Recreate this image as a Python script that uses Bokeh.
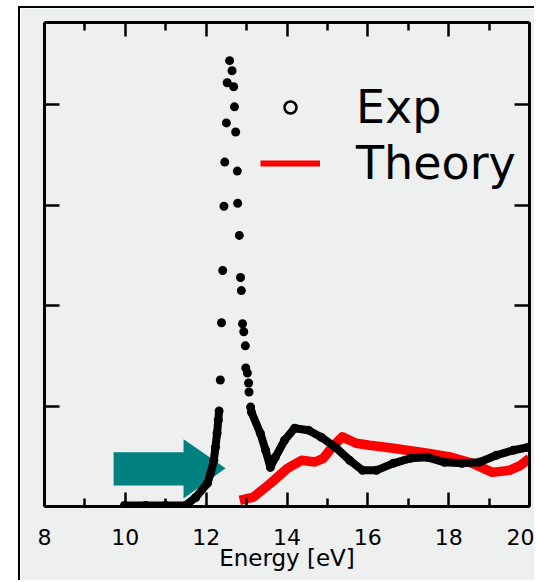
from bokeh.plotting import figure
from bokeh.models import LinearAxis, FixedTicker, Range1d, Legend, LegendItem
from bokeh.embed import file_html
from bokeh.resources import INLINE

# ---- data ----
# experimental trace where the dots merge into a continuous band
exp_base_x = [9.98, 10.5, 11.0, 11.49, 11.74, 12.03, 12.11, 12.19, 12.23, 12.27, 12.30, 12.32]
exp_base_y = [0.01, 0.01, 0.01, 0.01, 0.09, 0.23, 0.33, 0.46, 0.59, 0.73, 0.86, 0.95]
exp_tail_x = [13.10, 13.12, 13.34, 13.47, 13.59, 13.71, 13.94, 14.19, 14.53, 14.85, 15.20,
              15.55, 15.87, 16.21, 16.63, 17.05, 17.48, 17.90, 18.33, 18.76, 19.18, 19.60, 19.97]
exp_tail_y = [0.99, 0.94, 0.73, 0.56, 0.39, 0.49, 0.66, 0.78, 0.76, 0.69, 0.59,
              0.46, 0.36, 0.36, 0.43, 0.48, 0.49, 0.44, 0.43, 0.44, 0.51, 0.56, 0.59]
# experimental points resolved as separate dots (peak region)
exp_peak_x = [12.35, 12.38, 12.41, 12.44, 12.46, 12.50, 12.52, 12.58, 12.64, 12.68, 12.70,
              12.73, 12.77, 12.78, 12.82, 12.85, 12.87, 12.90, 12.93, 12.97, 12.98, 13.02,
              13.05, 13.06]
exp_peak_y = [1.26, 1.83, 2.35, 2.99, 3.43, 3.82, 4.22, 4.44, 4.34, 4.18, 3.98,
              3.73, 3.34, 3.02, 2.70, 2.28, 2.15, 1.82, 1.74, 1.60, 1.38, 1.33,
              1.23, 1.14]
# theory curve
theory_x = [12.83, 13.17, 13.59, 14.01, 14.36, 14.69, 14.90, 15.12, 15.37, 15.71, 16.04,
            16.63, 17.48, 18.07, 18.59, 19.08, 19.50, 19.78, 20.0]
theory_y = [0.06, 0.093, 0.23, 0.38, 0.46, 0.443, 0.48, 0.593, 0.693, 0.63, 0.61,
            0.58, 0.53, 0.49, 0.43, 0.34, 0.36, 0.41, 0.48]

x_major = [8, 10, 12, 14, 16, 18, 20]
x_minor = [9, 11, 13, 15, 17, 19]
y_major = [0, 1, 2, 3, 4]

BG = "#eeefef"
FONT = "DejaVu Sans"
NAN = float("nan")

p = figure(width=516, height=574, x_range=Range1d(8, 20), y_range=Range1d(0, 4.82),
           output_backend="svg", toolbar_location=None,
           min_border_left=24, min_border_right=7, min_border_top=14, min_border_bottom=76,
           background_fill_color=BG, border_fill_color=BG, outline_line_color=None,
           styles={"margin-left": "18px", "margin-top": "6px",
                   "border-left": "2px solid #000", "border-top": "2px solid #000"})
p.grid.visible = False

def style_axis(ax, ticker, labels=False):
    ax.ticker = ticker
    ax.axis_line_width = 3
    ax.axis_line_color = "black"
    ax.major_tick_line_width = 2.5
    ax.minor_tick_line_width = 2.5
    ax.major_tick_line_color = "black"
    ax.minor_tick_line_color = "black"
    ax.major_tick_in = 14
    ax.major_tick_out = 0
    ax.minor_tick_in = 8
    ax.minor_tick_out = 0
    if labels:
        ax.major_label_text_font = FONT
        ax.major_label_text_font_size = "22px"
        ax.major_label_text_color = "black"
        ax.major_label_standoff = 22
    else:
        ax.major_label_overrides = {t: "" for t in ticker.ticks}
        ax.major_label_text_font_size = "1px"
        ax.major_label_standoff = 0

bottom = p.xaxis[0]
style_axis(bottom, FixedTicker(ticks=x_major, minor_ticks=x_minor), labels=True)
bottom.axis_label = "Energy [eV]"
bottom.axis_label_text_font = FONT
bottom.axis_label_text_font_style = "normal"
bottom.axis_label_text_font_size = "23px"
bottom.axis_label_text_color = "black"
bottom.axis_label_standoff = -3

left = p.yaxis[0]
style_axis(left, FixedTicker(ticks=y_major, minor_ticks=[]))
left.major_tick_in = 15

top = LinearAxis()
style_axis(top, FixedTicker(ticks=x_major, minor_ticks=x_minor))
p.add_layout(top, "above")

right = LinearAxis()
style_axis(right, FixedTicker(ticks=y_major, minor_ticks=[]))
right.major_tick_in = 15
p.add_layout(right, "right")

# teal arrow annotation
p.patch([9.71, 11.44, 11.44, 12.48, 11.44, 11.44, 9.71],
        [0.54, 0.54, 0.67, 0.38, 0.08, 0.21, 0.21],
        fill_color="#008080", line_color=None)

# theory line
p.line(theory_x, theory_y, line_color="#ff0000", line_width=9.5, line_join="round")

# experimental data
p.line(exp_base_x, exp_base_y, line_color="black", line_width=8, line_cap="round", line_join="round")
p.line(exp_tail_x, exp_tail_y, line_color="black", line_width=8, line_cap="round", line_join="round")
p.scatter(exp_base_x + exp_peak_x + exp_tail_x, exp_base_y + exp_peak_y + exp_tail_y,
          size=9, marker="circle", fill_color="black", line_color=None)

# legend glyph renderers (no visible data)
leg_exp = p.scatter(x=[NAN], y=[NAN], marker="circle", size=9, fill_color=BG,
                    line_color="black", line_width=2.5)
leg_th = p.line(x=[NAN, NAN], y=[NAN, NAN], line_color="#ff0000", line_width=6)

legend = Legend(items=[LegendItem(label="Exp", renderers=[leg_exp]),
                       LegendItem(label="Theory", renderers=[leg_th])],
                location=(216, 316), orientation="vertical",
                label_text_font=FONT, label_text_font_size="46px", label_text_color="black",
                glyph_width=60, glyph_height=30, label_standoff=36, spacing=2,
                padding=0, margin=0, border_line_color=None, background_fill_alpha=0)
p.add_layout(legend, "center")

open("out.html", "w").write(file_html(p, INLINE))
